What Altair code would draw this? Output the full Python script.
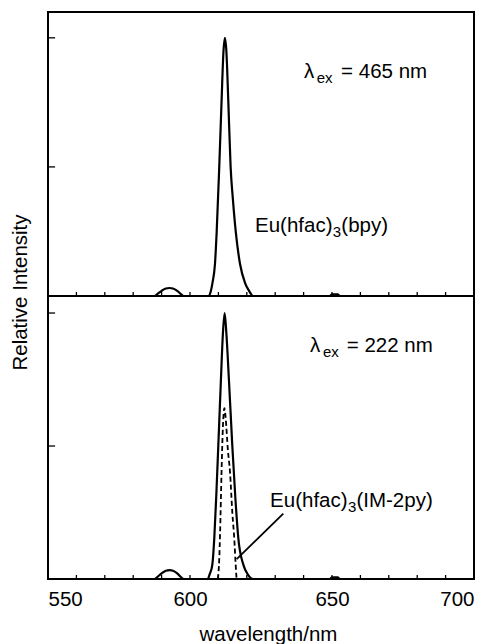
import altair as alt
import pandas as pd

# ---------------- data ----------------
# upper panel: Eu(hfac)3(bpy), excitation 465 nm
wl_top = [550, 587.5, 588.5, 590, 591.5, 592.8, 594, 595.5, 596.8, 597.8,
          606.6, 607.3, 607.9, 608.8, 609.4, 610.3, 611.1, 611.8, 612.3, 612.8,
          613.5, 614.3, 615.1, 616.1, 617.6, 619.4, 620.8, 622.2,
          649.2, 650.0, 652.0, 652.8, 700]
i_top = [0, 0, 0.015, 0.04, 0.058, 0.062, 0.058, 0.04, 0.015, 0,
         0, 0.035, 0.1, 0.25, 0.5, 1.0, 1.5, 1.9, 2.0, 1.9,
         1.5, 1.0, 0.75, 0.5, 0.25, 0.1, 0.04, 0,
         0, 0.012, 0.012, 0, 0]

# lower panel, solid curve (excitation 222 nm)
wl_bot = [550, 587.5, 588.5, 590, 591.5, 592.8, 594, 595.5, 596.8, 597.8,
          606.2, 607.0, 607.85, 608.56, 609.3, 609.96, 610.8, 611.6, 612.2, 612.8,
          613.7, 614.9, 616.0, 617.0, 618.8, 620.5, 622.3,
          649.2, 650.0, 652.0, 652.8, 700]
i_bot = [0, 0, 0.015, 0.042, 0.062, 0.066, 0.062, 0.042, 0.015, 0,
         0, 0.04, 0.106, 0.31, 0.65, 1.0, 1.45, 1.85, 2.0, 1.85,
         1.5, 1.0, 0.6, 0.31, 0.106, 0.03, 0,
         0, 0.012, 0.012, 0, 0]

# lower panel, dashed curve: Eu(hfac)3(IM-2py)
wl_dash = [609.8, 610.3, 610.6, 611.1, 611.6, 612.1, 612.6, 613.3, 614.1, 614.9, 615.6, 616.1, 616.4]
i_dash = [0, 0.15, 0.35, 0.8, 1.15, 1.285, 1.2, 0.98, 0.8, 0.5, 0.3, 0.1, 0]

# axis ticks
x_label_values = [550, 600, 650, 700]
x_minor_ticks = [560, 570, 580, 590, 600, 610, 620, 630, 640, 650, 660, 670, 680, 690]
y_tick_values = [1, 2]

# annotations
top_main_text = ["λ", "= 465 nm", "Eu(hfac)", "(bpy)"]
top_main_x = [640.1, 653.2, 622.9, 653.3]
top_main_y = [1.69, 1.69, 0.498, 0.498]
top_sub_text = ["ex", "3"]
top_sub_x = [644.6, 650.3]
top_sub_y = [1.69, 0.498]

bot_main_text = ["λ", "= 222 nm", "Eu(hfac)", "(IM-2py)"]
bot_main_x = [642.25, 655.2, 628.2, 658.6]
bot_main_y = [1.709, 1.709, 0.544, 0.544]
bot_sub_text = ["ex", "3"]
bot_sub_x = [646.8, 655.6]
bot_sub_y = [1.709, 0.544]

leader_x = [632.85, 616.44]
leader_y = [0.491, 0.149]

# ---------------- layout ----------------
FONT = "Liberation Sans"
FS = 20.5
SUB = 15
W, H = 426, 567
SPLIT = 284
TICK_TOP = 0.031
TICK_BOT = 0.030
YTICK_END = 552.5

x_sc = alt.Scale(domain=[550, 700], nice=False, zero=False)
y_top = alt.Scale(domain=[0, 2.2], range=[SPLIT, 0], nice=False, zero=False)
y_bot = alt.Scale(domain=[0, 2.128], range=[H, SPLIT], nice=False, zero=False)

x_axis = alt.Axis(values=x_label_values, ticks=False, tickSize=0, domain=False, grid=False,
                  labelFont=FONT, labelFontSize=FS, labelColor="black", labelPadding=10,
                  title="wavelength/nm", titleFont=FONT, titleFontSize=FS, titleFontWeight="normal",
                  titleColor="black", titlePadding=15, titleX=220)
y_axis = alt.Axis(orient="left", labels=False, ticks=False, domain=False, grid=False,
                  title="Relative Intensity", titleFont=FONT, titleFontSize=FS,
                  titleFontWeight="normal", titleColor="black", titleAngle=270,
                  titleX=-28, titleY=280, titleAlign="center", titleBaseline="middle")


def X(field="wl"):
    return alt.X(f"{field}:Q", scale=x_sc, axis=x_axis)


df_top = pd.DataFrame({"wl": wl_top, "i": i_top})
df_bot = pd.DataFrame({"wl": wl_bot, "i": i_bot})
df_dash = pd.DataFrame({"wl": wl_dash, "i": i_dash})

top_curve = alt.Chart(df_top).mark_line(color="black", strokeWidth=2.2, interpolate="monotone").encode(
    x=X(), y=alt.Y("i:Q", scale=y_top, axis=y_axis),
)
bot_curve = alt.Chart(df_bot).mark_line(color="black", strokeWidth=2.2, interpolate="monotone").encode(
    x=X(), y=alt.Y("i:Q", scale=y_bot, axis=None),
)
dash_curve = alt.Chart(df_dash).mark_line(color="black", strokeWidth=1.8, strokeDash=[5, 3],
                                           interpolate="monotone").encode(
    x=X(), y=alt.Y("i:Q", scale=y_bot, axis=None),
)

# middle separator line
sep_df = pd.DataFrame({"wl": [550], "wl2": [700], "i": [0]})
separator = alt.Chart(sep_df).mark_rule(color="black", strokeWidth=2).encode(
    x=X(), x2="wl2:Q", y=alt.Y("i:Q", scale=y_top, axis=None),
)

# inward x ticks
xt_top = pd.DataFrame({"wl": x_minor_ticks, "i": [0] * len(x_minor_ticks), "i2": [TICK_TOP] * len(x_minor_ticks)})
xt_bot = pd.DataFrame({"wl": x_minor_ticks, "i": [0] * len(x_minor_ticks), "i2": [TICK_BOT] * len(x_minor_ticks)})
xticks_top = alt.Chart(xt_top).mark_rule(color="black", strokeWidth=1.3).encode(
    x=X(), y=alt.Y("i:Q", scale=y_top, axis=None), y2="i2:Q",
)
xticks_bot = alt.Chart(xt_bot).mark_rule(color="black", strokeWidth=1.3).encode(
    x=X(), y=alt.Y("i:Q", scale=y_bot, axis=None), y2="i2:Q",
)

# inward y ticks
yt_df = pd.DataFrame({"wl": [550] * len(y_tick_values), "wl2": [YTICK_END] * len(y_tick_values), "i": y_tick_values})
yticks_top = alt.Chart(yt_df).mark_rule(color="black", strokeWidth=1.3).encode(
    x=X(), x2="wl2:Q", y=alt.Y("i:Q", scale=y_top, axis=None),
)
yticks_bot = alt.Chart(yt_df).mark_rule(color="black", strokeWidth=1.3).encode(
    x=X(), x2="wl2:Q", y=alt.Y("i:Q", scale=y_bot, axis=None),
)

# leader line
leader = alt.Chart(pd.DataFrame({"wl": leader_x, "i": leader_y})).mark_line(color="black", strokeWidth=1.8).encode(
    x=X(), y=alt.Y("i:Q", scale=y_bot, axis=None),
)


def text_layer(texts, xs, ys, yscale, size, dy):
    df = pd.DataFrame({"t": texts, "wl": xs, "i": ys})
    return alt.Chart(df).mark_text(align="left", baseline="alphabetic", font=FONT,
                                   fontSize=size, color="black", dy=dy).encode(
        x=X(),
        y=alt.Y("i:Q", scale=y_bot if yscale == "bot" else y_top, axis=None),
        text="t:N",
    )


t1 = text_layer(top_main_text, top_main_x, top_main_y, "top", FS, 0)
t2 = text_layer(top_sub_text, top_sub_x, top_sub_y, "top", SUB, 5)
t3 = text_layer(bot_main_text, bot_main_x, bot_main_y, "bot", FS, 0)
t4 = text_layer(bot_sub_text, bot_sub_x, bot_sub_y, "bot", SUB, 5)

chart = alt.layer(
    top_curve, bot_curve, dash_curve, separator, xticks_top, xticks_bot,
    yticks_top, yticks_bot, leader, t1, t2, t3, t4,
).resolve_scale(y="independent").resolve_axis(y="independent").properties(
    width=W, height=H,
    background="white",
    autosize=alt.AutoSizeParams(type="none"),
    padding={"left": 48, "top": 12, "right": 16, "bottom": 65},
).configure_view(stroke="black", strokeWidth=2)

chart.save("out.html", embed_options={"renderer": "svg", "actions": False})
